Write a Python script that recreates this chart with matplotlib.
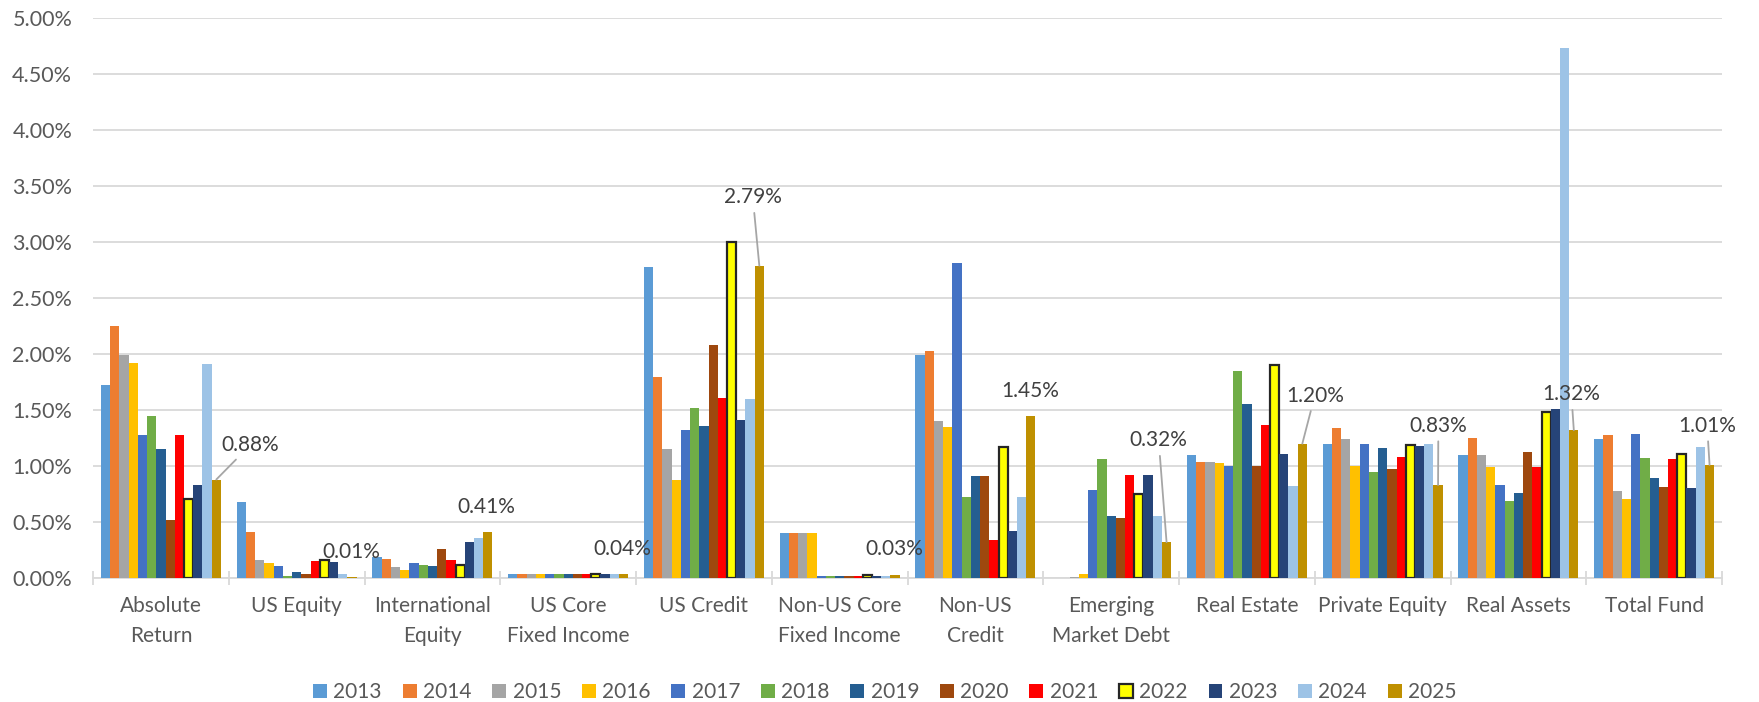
import numpy as np
import matplotlib.pyplot as plt
from matplotlib.patches import Patch

plt.rcParams['font.family'] = ['Lato', 'DejaVu Sans']

categories = ['Absolute\nReturn', 'US Equity', 'International\nEquity', 'US Core\nFixed Income',
              'US Credit', 'Non-US Core\nFixed Income', 'Non-US\nCredit', 'Emerging\nMarket Debt',
              'Real Estate', 'Private Equity', 'Real Assets', 'Total Fund']
years = ['2013', '2014', '2015', '2016', '2017', '2018', '2019',
         '2020', '2021', '2022', '2023', '2024', '2025']

# values in percent, one list per year (same order as categories)
y2013 = [1.72, 0.68, 0.19, 0.04, 2.78, 0.40, 1.99, 0.00, 1.10, 1.20, 1.10, 1.24]
y2014 = [2.25, 0.41, 0.17, 0.04, 1.80, 0.40, 2.03, 0.00, 1.04, 1.34, 1.25, 1.28]
y2015 = [1.99, 0.16, 0.10, 0.04, 1.15, 0.40, 1.40, 0.005, 1.04, 1.24, 1.10, 0.78]
y2016 = [1.92, 0.13, 0.07, 0.04, 0.88, 0.40, 1.35, 0.04, 1.03, 1.00, 0.99, 0.71]
y2017 = [1.28, 0.11, 0.13, 0.04, 1.32, 0.02, 2.81, 0.79, 1.00, 1.20, 0.83, 1.29]
y2018 = [1.45, 0.02, 0.12, 0.04, 1.52, 0.02, 0.72, 1.06, 1.85, 0.95, 0.69, 1.07]
y2019 = [1.15, 0.05, 0.11, 0.04, 1.36, 0.02, 0.91, 0.55, 1.55, 1.16, 0.76, 0.89]
y2020 = [0.52, 0.04, 0.26, 0.04, 2.08, 0.02, 0.91, 0.54, 1.00, 0.97, 1.13, 0.81]
y2021 = [1.28, 0.15, 0.16, 0.04, 1.61, 0.02, 0.34, 0.92, 1.37, 1.08, 0.99, 1.06]
y2022 = [0.71, 0.16, 0.12, 0.04, 3.00, 0.03, 1.17, 0.75, 1.90, 1.19, 1.48, 1.11]
y2023 = [0.83, 0.14, 0.32, 0.04, 1.41, 0.02, 0.42, 0.92, 1.11, 1.18, 1.51, 0.80]
y2024 = [1.91, 0.04, 0.36, 0.04, 1.60, 0.02, 0.72, 0.55, 0.82, 1.20, 4.73, 1.17]
y2025 = [0.88, 0.01, 0.41, 0.04, 2.79, 0.03, 1.45, 0.32, 1.20, 0.83, 1.32, 1.01]

series = [y2013, y2014, y2015, y2016, y2017, y2018, y2019,
          y2020, y2021, y2022, y2023, y2024, y2025]
colors = ['#5B9BD5', '#ED7D31', '#A5A5A5', '#FFC000', '#4472C4', '#70AD47', '#255E91',
          '#9E480E', '#FF0000', '#FFFF00', '#264478', '#9DC3E6', '#BF9000']

# where the 2025 labels sit (x offset from category centre, y in %) and whether a leader line is drawn
label_dx = [0.66, 0.40, 0.40, 0.40, 0.36, 0.40, 0.40, 0.35, 0.50, 0.41, 0.39, 0.39]
label_y = [1.19, 0.23, 0.63, 0.26, 3.40, 0.26, 1.67, 1.23, 1.63, 1.36, 1.64, 1.36]
leader = [True, False, False, False, True, False, False, True, True, True, True, True]

FS = 15

fig = plt.figure(figsize=(17.59, 7.02), dpi=100)
ax = fig.add_axes([0.0529, 0.1766, 0.9261, 0.7974])

x = np.arange(len(categories))
w = 0.068
n = len(years)
for i, (yr, vals) in enumerate(zip(years, series)):
    pos = x + (i - (n - 1) / 2) * w
    if yr == '2022':
        ax.bar(pos, vals, w, color=colors[i], edgecolor='#262626', linewidth=1.6, zorder=3)
    else:
        ax.bar(pos, vals, w, color=colors[i], linewidth=0, zorder=3)

# data labels for 2025
last = x + (n - 1) / 2 * w
for i, v in enumerate(y2025):
    txt = f'{v:.2f}%'
    if leader[i]:
        ax.annotate(txt, xy=(last[i], v), xytext=(x[i] + label_dx[i], label_y[i]),
                    ha='center', va='center', fontsize=FS, color='#404040',
                    arrowprops=dict(arrowstyle='-', color='#A6A6A6', lw=1.3,
                                    shrinkA=2, shrinkB=0), zorder=5)
    else:
        ax.text(x[i] + label_dx[i], label_y[i], txt, ha='center', va='center',
                fontsize=FS, color='#404040', zorder=5)

ax.set_xlim(-0.5, len(categories) - 0.5)
ax.set_ylim(0, 5)
ax.set_yticks(np.arange(0, 5.01, 0.5))
ax.set_yticklabels([f'{t:.2f}%' for t in np.arange(0, 5.01, 0.5)])
ax.yaxis.grid(True, color='#D9D9D9', linewidth=1.3, zorder=0)
ax.set_axisbelow(True)

ax.set_xticks(x)
ax.set_xticklabels(categories, linespacing=1.6)
ax.set_xticks(np.arange(-0.5, len(categories)), minor=True)
ax.tick_params(axis='x', which='major', length=0, pad=13, labelsize=FS, labelcolor='#595959')
ax.tick_params(axis='x', which='minor', length=10, width=1.3, color='#D9D9D9', direction='inout')
ax.tick_params(axis='y', length=0, pad=15, labelsize=FS + 0.5, labelcolor='#595959')

for s in ['top', 'right', 'left']:
    ax.spines[s].set_visible(False)
ax.spines['bottom'].set_color('#D9D9D9')
ax.spines['bottom'].set_linewidth(1.3)

handles = []
for i, yr in enumerate(years):
    if yr == '2022':
        handles.append(Patch(facecolor=colors[i], edgecolor='#262626', linewidth=1.6, label=yr))
    else:
        handles.append(Patch(facecolor=colors[i], linewidth=0, label=yr))
fig.legend(handles=handles, loc='center', bbox_to_anchor=(0.503, 0.0142), ncol=n,
           frameon=False, fontsize=FS, handlelength=0.67, handleheight=0.67,
           handletextpad=0.3, columnspacing=1.0, labelcolor='#595959')

plt.savefig('out.png', dpi=100)
